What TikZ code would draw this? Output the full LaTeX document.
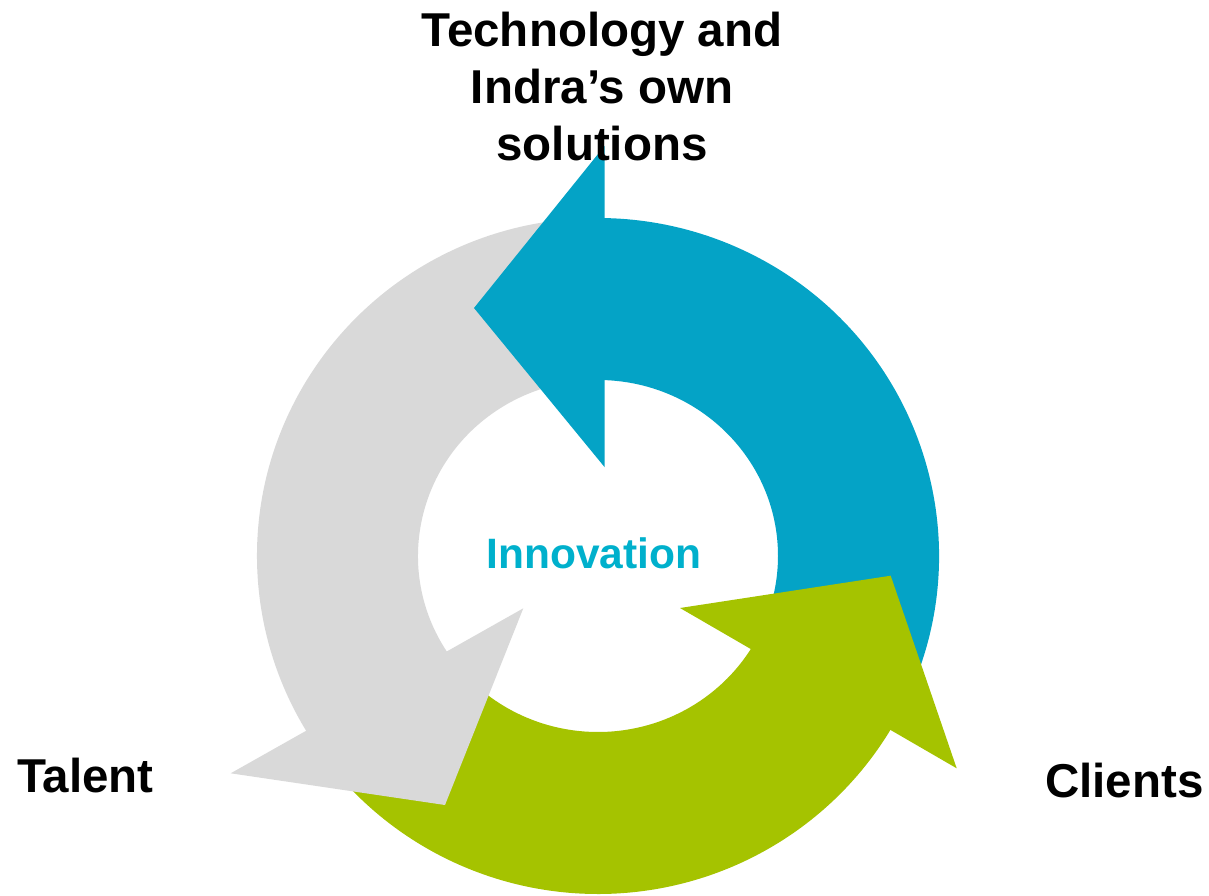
\documentclass[tikz,border=0pt]{standalone}
\usepackage{fontspec}
\setmainfont{Liberation Sans}
\usepackage[HTML]{xcolor}
\usepackage{tikz}
\usetikzlibrary{positioning}

\definecolor{cycleblue}{HTML}{04A3C6}
\definecolor{cyclegreen}{HTML}{A5C300}
\definecolor{cyclegrey}{HTML}{D9D9D9}
\definecolor{innovcyan}{HTML}{00B0CC}

\begin{document}
\begin{tikzpicture}[x=1pt, y=1pt,
  every node/.style={inner sep=0pt, font=\bfseries\fontsize{47.5}{57}\selectfont},
  bluearrow/.style={fill=cycleblue},
  greenarrow/.style={fill=cyclegreen},
  greyarrow/.style={fill=cyclegrey},
  outerring/.style={x radius=341, y radius=338},
  innerring/.style={x radius=180, y radius=176}]
\useasboundingbox (-598,-339) rectangle (611,556);

% Draw the bodies of the arrows (the tails go under the heads)
\fill[bluearrow] (-26:341 and 338) arc[start angle=-26, end angle=90, outerring]
  -- (90:180 and 176) arc[start angle=90, end angle=-26, innerring] -- cycle;
\fill[greyarrow] (95:341 and 338) arc[start angle=95, end angle=213, outerring]
  -- (213:180 and 176) arc[start angle=213, end angle=95, innerring] -- cycle;
\fill[greenarrow] (216:341 and 338) arc[start angle=216, end angle=331, outerring]
  -- (331:180 and 176) arc[start angle=331, end angle=216, innerring] -- cycle;

% Draw the heads
\fill[bluearrow] (6.5,410) -- (-124,248) -- (6.5,89) -- cycle;
\fill[greyarrow] (-74.7,-52.3) -- (-153,-249) -- (-367.3,-217.3) -- cycle;
\fill[greenarrow] (358.7,-212.3) -- (292.7,-19.7) -- (82,-52) -- cycle;

% Define the labels
\node[anchor=north, align=center] (tech) at (4,544) {Technology and\\Indra’s own\\solutions};
\node[anchor=base west] (talent) at (-581,-236) {Talent};
\node[anchor=base west] (clients) at (447,-241) {Clients};
\node[anchor=base, text=innovcyan, font=\bfseries\fontsize{42.5}{51}\selectfont] (innov) at (-4,-12) {Innovation};
\end{tikzpicture}
\end{document}
